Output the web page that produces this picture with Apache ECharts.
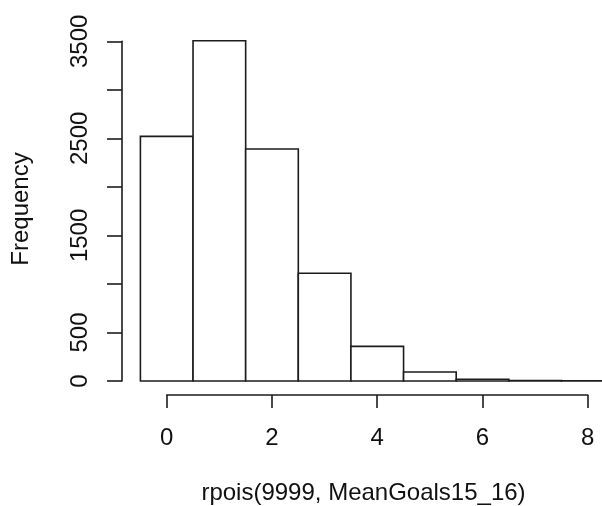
<!DOCTYPE html>
<html>
<head>
<meta charset="utf-8">
<script src="https://cdn.jsdelivr.net/npm/echarts@6/dist/echarts.min.js"></script>
<style>
html,body{margin:0;padding:0;background:#fff;}
#chart{width:602px;height:506px;}
</style>
</head>
<body>
<div id="chart"></div>
<script>
// Histogram bins (bin centres) and counts
const goals = [0, 1, 2, 3, 4, 5, 6, 7, 8];
const frequency = [2520, 3505, 2390, 1110, 357, 93, 18, 4, 2];
// Labels R actually printed on the y axis (others dropped for overlap)
const yTickLabels = ['0', '500', '1500', '2500', '3500'];
const xTitle = 'rpois(9999, MeanGoals15_16)';
const yTitle = 'Frequency';

const FONT = 'Liberation Sans, Arial, sans-serif';
const FS = 24;
const INK = '#1c1c1c';
const LW = 1.6;

const chart = echarts.init(document.getElementById('chart'), null, {renderer: 'canvas'});

const data = goals.map((g, i) => [g, frequency[i]]);

chart.setOption({
  backgroundColor: '#fff',
  animation: false,
  grid: [
    {left: 140.4, top: 41.3, width: 473.7, height: 339.7, outerBoundsMode: 'none', containLabel: false},
    {left: 166.7, top: 41.3, width: 421, height: 353.7, outerBoundsMode: 'none', containLabel: false},
    {left: 122, top: 41.3, width: 400, height: 339.7, outerBoundsMode: 'none', containLabel: false}
  ],
  xAxis: [
    {gridIndex: 0, type: 'value', min: -0.5, max: 8.5, show: false},
    {gridIndex: 1, type: 'value', min: 0, max: 8, interval: 2, position: 'bottom',
      axisLine: {show: true, lineStyle: {color: INK, width: LW}},
      axisTick: {show: true, length: 13, lineStyle: {color: INK, width: LW}},
      axisLabel: {show: true, margin: 31, color: '#111', fontFamily: FONT, fontSize: FS},
      splitLine: {show: false}},
    {gridIndex: 2, type: 'value', min: 0, max: 1, show: false}
  ],
  yAxis: [
    {gridIndex: 0, type: 'value', min: 0, max: 3500, show: false},
    {gridIndex: 1, type: 'value', min: 0, max: 1, show: false},
    {gridIndex: 2, type: 'value', min: 0, max: 3500, interval: 500, position: 'left',
      axisLine: {show: true, lineStyle: {color: INK, width: LW}},
      axisTick: {show: true, length: 15, lineStyle: {color: INK, width: LW}},
      axisLabel: {show: true, rotate: 90, margin: 30, color: '#111', fontFamily: FONT, fontSize: FS,
        showMinLabel: true, showMaxLabel: true, hideOverlap: false,
        formatter: v => (yTickLabels.indexOf(String(v)) >= 0 ? String(v) : '')},
      splitLine: {show: false}}
  ],
  series: [{
    type: 'custom',
    xAxisIndex: 0,
    yAxisIndex: 0,
    clip: false,
    data: data,
    renderItem: function (params, api) {
      const x = api.value(0);
      const y = api.value(1);
      const p0 = api.coord([x - 0.5, y]);
      const p1 = api.coord([x + 0.5, 0]);
      return {
        type: 'rect',
        shape: {x: p0[0], y: p0[1], width: p1[0] - p0[0], height: p1[1] - p0[1]},
        style: {fill: '#fff', stroke: INK, lineWidth: LW}
      };
    }
  }],
  graphic: [
    {type: 'text', x: 21, y: 209, rotation: Math.PI / 2,
      style: {text: yTitle, fontFamily: FONT, fontSize: FS, fill: '#111', align: 'center', verticalAlign: 'middle'}},
    {type: 'text', x: 363.5, y: 493,
      style: {text: xTitle, fontFamily: FONT, fontSize: FS, fill: '#111', align: 'center', verticalAlign: 'middle'}}
  ]
});
</script>
</body>
</html>
